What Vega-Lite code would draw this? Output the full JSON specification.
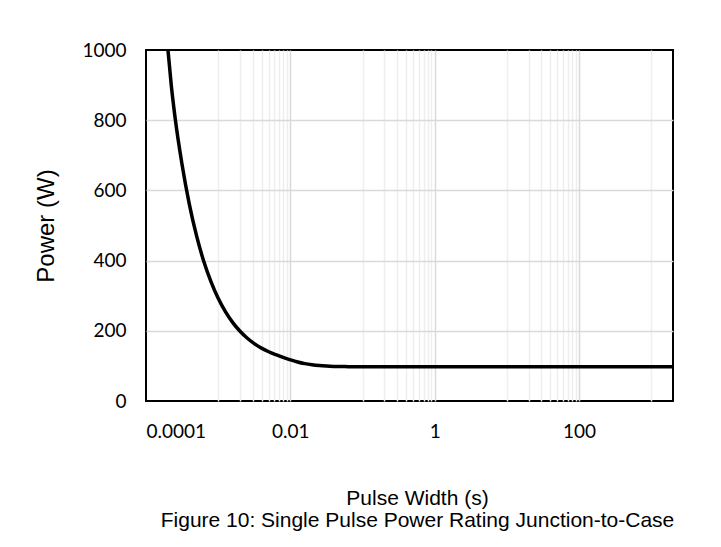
{
  "$schema": "https://vega.github.io/schema/vega-lite/v6.json",
  "width": 527,
  "height": 351,
  "autosize": {"type": "none"},
  "padding": {"left": 146, "top": 50, "right": 48, "bottom": 146},
  "background": "white",
  "title": {
    "text": "Figure 10: Single Pulse Power Rating Junction-to-Case",
    "orient": "bottom",
    "anchor": "middle",
    "font": "Liberation Sans",
    "fontSize": 21,
    "fontWeight": "normal",
    "color": "black",
    "offset": 2,
    "dx": 8
  },
  "config": {"view": {"stroke": "black", "strokeWidth": 2}},
  "data": {
    "values": [
      {"t": 0.0001778, "p": 1130},
      {"t": 0.0001995, "p": 1010},
      {"t": 0.0002239, "p": 900},
      {"t": 0.0002512, "p": 812},
      {"t": 0.0003162, "p": 673},
      {"t": 0.0003981, "p": 561},
      {"t": 0.0005012, "p": 471},
      {"t": 0.000631, "p": 398},
      {"t": 0.0007943, "p": 340},
      {"t": 0.001, "p": 292.5},
      {"t": 0.001259, "p": 254.5},
      {"t": 0.001585, "p": 224},
      {"t": 0.001995, "p": 199.4},
      {"t": 0.002512, "p": 179.5},
      {"t": 0.003162, "p": 163.6},
      {"t": 0.003981, "p": 150.7},
      {"t": 0.005012, "p": 140.4},
      {"t": 0.00631, "p": 132},
      {"t": 0.007943, "p": 124.3},
      {"t": 0.01, "p": 117.4},
      {"t": 0.01259, "p": 111.2},
      {"t": 0.01585, "p": 106.5},
      {"t": 0.01995, "p": 103.2},
      {"t": 0.02512, "p": 100.9},
      {"t": 0.03162, "p": 99.5},
      {"t": 0.03981, "p": 98.6},
      {"t": 0.05012, "p": 98.1},
      {"t": 0.0631, "p": 97.85},
      {"t": 0.1, "p": 97.6},
      {"t": 0.3162, "p": 97.5},
      {"t": 2000, "p": 97.5}
    ]
  },
  "mark": {"type": "line", "color": "black", "strokeWidth": 3.5, "interpolate": "monotone", "clip": true},
  "encoding": {
    "x": {
      "field": "t",
      "type": "quantitative",
      "scale": {"type": "log", "domain": [0.0001, 2000], "nice": false},
      "axis": {
        "title": "Pulse Width (s)",
        "titleFont": "Liberation Sans",
        "titleFontSize": 21,
        "titleFontWeight": "normal",
        "titleColor": "black",
        "titlePadding": 46,
        "titleX": 271,
        "values": [0.0001, 0.001, 0.002, 0.003, 0.004, 0.005, 0.006, 0.007, 0.008, 0.009, 0.01, 0.1, 0.2, 0.3, 0.4, 0.5, 0.6, 0.7, 0.8, 0.9, 1, 10, 20, 30, 40, 50, 60, 70, 80, 90, 100, 1000],
        "labelExpr": "datum.value == 0.0001 ? '0.0001' : datum.value == 0.01 ? '0.01' : datum.value == 1 ? '1' : datum.value == 100 ? '100' : ''",
        "labelOverlap": false,
        "labelFont": "Lato",
        "labelFontSize": 19,
        "labelColor": "black",
        "labelPadding": 21,
        "domain": false,
        "ticks": false,
        "tickSize": 0,
        "grid": true,
        "gridWidth": 1.5,
        "gridColor": {"condition": {"test": "datum.value == 0.01 || datum.value == 1 || datum.value == 100", "value": "#d9d9d9"}, "value": "#eeeeee"},
        "gridOpacity": {"condition": {"test": "datum.value == 0.0001", "value": 0}, "value": 1}
      }
    },
    "y": {
      "field": "p",
      "type": "quantitative",
      "scale": {"domain": [0, 1000], "nice": false},
      "axis": {
        "title": "Power (W)",
        "titleFont": "Liberation Sans",
        "titleFontSize": 24,
        "titleFontWeight": "normal",
        "titleColor": "black",
        "titlePadding": 23,
        "values": [0, 200, 400, 600, 800, 1000],
        "format": "d",
        "labelFont": "Lato",
        "labelFontSize": 19,
        "labelColor": "black",
        "labelPadding": 20,
        "domain": false,
        "ticks": false,
        "tickSize": 0,
        "grid": true,
        "gridWidth": 1.5,
        "gridColor": "#d9d9d9",
        "gridOpacity": {"condition": {"test": "datum.value == 0 || datum.value == 1000", "value": 0}, "value": 1}
      }
    }
  }
}
